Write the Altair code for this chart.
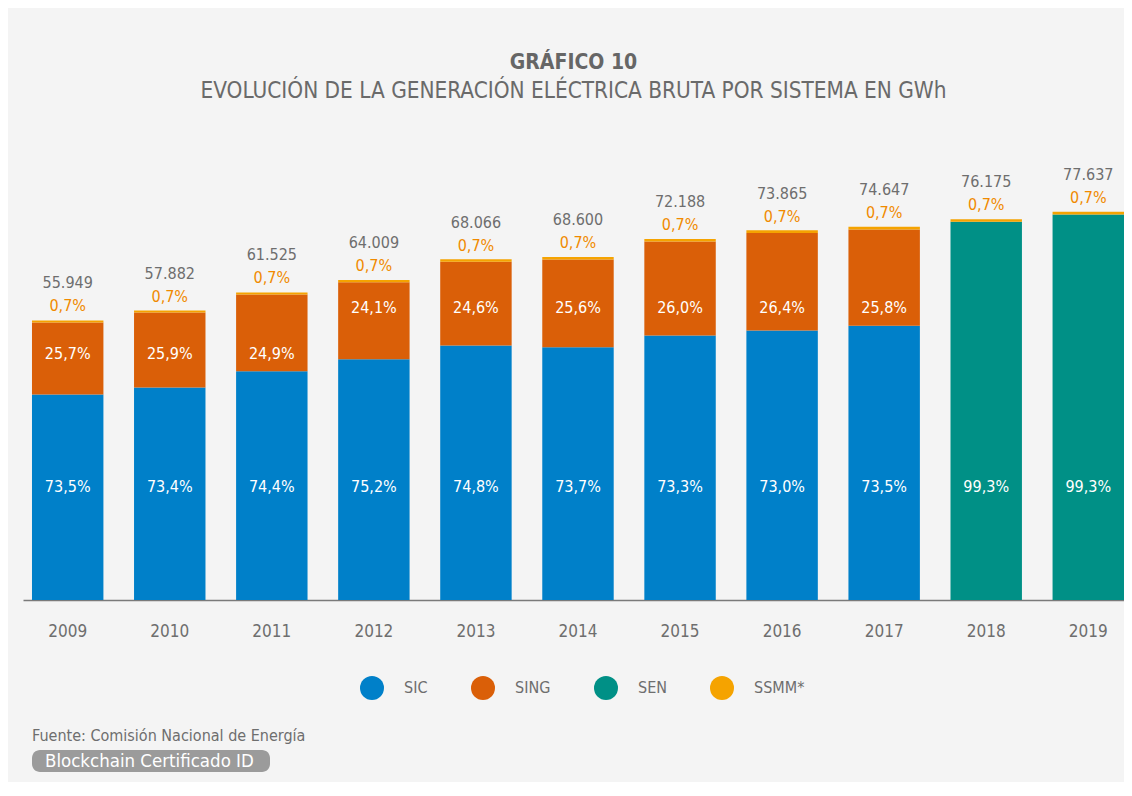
import altair as alt
import pandas as pd

years = ["2009", "2010", "2011", "2012", "2013", "2014", "2015", "2016", "2017", "2018", "2019"]
totals = [55949, 57882, 61525, 64009, 68066, 68600, 72188, 73865, 74647, 76175, 77637]
sic_pct = [73.5, 73.4, 74.4, 75.2, 74.8, 73.7, 73.3, 73.0, 73.5, None, None]
sing_pct = [25.7, 25.9, 24.9, 24.1, 24.6, 25.6, 26.0, 26.4, 25.8, None, None]
sen_pct = [None, None, None, None, None, None, None, None, None, 99.3, 99.3]
ssmm_pct = [0.7, 0.7, 0.7, 0.7, 0.7, 0.7, 0.7, 0.7, 0.7, 0.7, 0.7]

series = ["SIC", "SING", "SEN", "SSMM*"]
colors = ["#0080C9", "#DA5F08", "#009086", "#F5A300"]

FONT = "Liberation Sans Narrow, DejaVu Sans Condensed, sans-serif"
GRAY = "#6e6e6e"


def fmt_pct(v):
    return f"{v:.1f}%".replace(".", ",")


def fmt_total(v):
    return f"{v:,}".replace(",", ".")


rows = []
for i, y in enumerate(years):
    for k, (name, arr) in enumerate(zip(series, [sic_pct, sing_pct, sen_pct, ssmm_pct])):
        p = arr[i]
        if p is None:
            continue
        rows.append({"year": y, "series": name, "order": k,
                     "value": totals[i] * p / 100.0, "label": fmt_pct(p)})
bars_df = pd.DataFrame(rows)

lab_df = pd.DataFrame({
    "year": years,
    "total": totals,
    "total_label": [fmt_total(t) for t in totals],
    "ssmm_label": [fmt_pct(p) for p in ssmm_pct],
    "main_label": [fmt_pct(s if s is not None else e) for s, e in zip(sic_pct, sen_pct)],
    "sing_label": [fmt_pct(p) if p is not None else "" for p in sing_pct],
    "yr": [int(y) for y in years],
})

W, H = 1101, 450
x_enc = alt.X("year:N", sort=years,
              scale=alt.Scale(paddingInner=0.3, paddingOuter=0.044, align=1),
              axis=alt.Axis(title=None, labelAngle=0, ticks=False, labelPadding=23,
                            labelFontSize=17, labelColor=GRAY, labelFont=FONT,
                            domainColor="#7a7a7a", domainWidth=1.5))
y_scale = alt.Scale(domain=[0, 90000], nice=False)

bars = alt.Chart(bars_df).mark_bar().encode(
    x=x_enc,
    y=alt.Y("sum(value):Q", stack="zero", scale=y_scale, axis=None),
    color=alt.Color("series:N", scale=alt.Scale(domain=series, range=colors),
                    legend=alt.Legend(title=None, orient="none", direction="horizontal",
                                      legendX=337, legendY=526, symbolType="circle",
                                      symbolSize=576, symbolStrokeWidth=0,
                                      labelOffset=20, columnPadding=43,
                                      labelFontSize=16, labelColor=GRAY, labelFont=FONT)),
    order=alt.Order("order:Q"),
)

base = alt.Chart(lab_df).encode(x=alt.X("year:N", sort=years))

total_text = base.mark_text(dy=-37, fontSize=16, color=GRAY, font=FONT, baseline="middle").encode(
    y=alt.Y("total:Q", scale=y_scale), text="total_label:N")
ssmm_text = base.mark_text(dy=-14, fontSize=16, color="#F08A00", font=FONT, baseline="middle").encode(
    y=alt.Y("total:Q", scale=y_scale), text="ssmm_label:N")
main_text = base.mark_text(fontSize=16, color="white", font=FONT, baseline="middle").encode(
    y=alt.value(337), text="main_label:N")
sing_text_lo = base.transform_filter("datum.yr <= 2011").mark_text(
    fontSize=16, color="white", font=FONT, baseline="middle").encode(
    y=alt.value(204), text="sing_label:N")
sing_text_hi = base.transform_filter("datum.yr > 2011").mark_text(
    fontSize=16, color="white", font=FONT, baseline="middle").encode(
    y=alt.value(158), text="sing_label:N")

footer = alt.Chart(pd.DataFrame({"t": ["Fuente: Comisión Nacional de Energía"]})).mark_text(
    align="left", baseline="middle", fontSize=16, color=GRAY, font=FONT).encode(
    x=alt.value(9), y=alt.value(586), text="t:N")
badge = alt.Chart(pd.DataFrame({"t": ["Blockchain Certificado ID"]})).mark_rect(
    color="#9b9b9b", cornerRadius=8).encode(
    x=alt.value(9), x2=alt.value(247), y=alt.value(600), y2=alt.value(622))
badge_text = alt.Chart(pd.DataFrame({"t": ["Blockchain Certificado ID"]})).mark_text(
    align="left", baseline="middle", fontSize=18.5, color="white", font=FONT).encode(
    x=alt.value(22), y=alt.value(611), text="t:N")

chart = alt.layer(bars, total_text, ssmm_text, main_text, sing_text_lo, sing_text_hi,
                  footer, badge, badge_text).properties(
    width=W, height=H,
    title=alt.TitleParams(text="GRÁFICO 10", subtitle="EVOLUCIÓN DE LA GENERACIÓN ELÉCTRICA BRUTA POR SISTEMA EN GWh",
                          anchor="middle", fontSize=21, fontWeight="bold", color="#666666", font=FONT,
                          subtitleFontSize=22.4, subtitleColor="#6a6a6a", subtitleFont=FONT,
                          subtitlePadding=7, offset=48),
    autosize=alt.AutoSizeParams(type="none"),
    padding={"left": 15, "right": 0, "top": 142, "bottom": 182},
    background="#f4f4f4",
).configure_view(stroke=None)

chart.save("out.html", embed_options={"renderer": "svg", "actions": False})
